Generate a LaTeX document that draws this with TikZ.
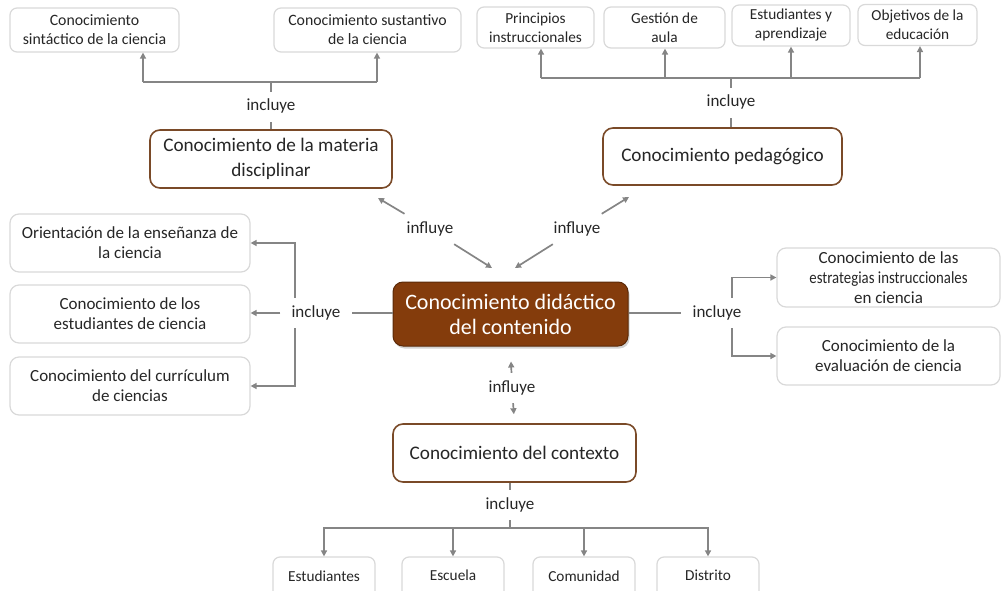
\documentclass[tikz,border=0pt]{standalone}
\usepackage{fontspec}
\setmainfont{Carlito}
\usetikzlibrary{arrows.meta,backgrounds,shadows}
\definecolor{brn}{HTML}{843C0C}
\definecolor{brnb}{HTML}{7A4A28}
\definecolor{lgray}{HTML}{D9D9D9}
\definecolor{cgray}{HTML}{858585}
\definecolor{txt}{HTML}{262626}
\tikzset{
  leaf/.style={draw=lgray, line width=1.2pt, rounded corners=7pt, fill=white, align=center,
    inner sep=0pt, text=txt, font=\fontsize{15.8}{19}\selectfont},
  leafs/.style={leaf, font=\fontsize{15.3}{19}\selectfont},
  leafl/.style={leaf, rounded corners=9pt, font=\fontsize{17}{20}\selectfont},
  mainbox/.style={draw=brnb, line width=1.6pt, rounded corners=10pt, fill=white, align=center,
    inner sep=0pt, text=txt, font=\fontsize{19.2}{25}\selectfont},
  core/.style={draw=brn!70!black, line width=1pt, fill=brn, rounded corners=10pt, text=white,
    align=center, inner sep=0pt, font=\fontsize{22}{25}\selectfont,
    drop shadow={shadow xshift=1.5pt, shadow yshift=-2.5pt, opacity=0.35}},
  lab/.style={inner xsep=11pt, inner ysep=8pt, text height=11pt, text depth=3pt, text=txt,
    font=\fontsize{17}{18}\selectfont},
  conn/.style={draw=cgray, line width=1.7pt},
  arr/.style={conn, -{Triangle[width=6pt,length=6pt]}},
}
\begin{document}
\begin{tikzpicture}[x=1pt,y=-1pt]
\useasboundingbox (0,0) rectangle (1001,591);
% top-left leaves
\node[leaf, minimum width=169, minimum height=44] (sint) at (94.5,30) {Conocimiento\\sintáctico de la ciencia};
\node[leaf, minimum width=187, minimum height=44] (sust) at (367.5,30) {Conocimiento sustantivo\\de la ciencia};
% top-right leaves
\node[leafs, minimum width=117, minimum height=41] (prin) at (535.5,27.5) {Principios\\instruccionales};
\node[leafs, minimum width=121, minimum height=41] (gest) at (664.5,27.5) {Gestión de\\aula};
\node[leafs, minimum width=118, minimum height=41] (estap) at (791,25.5) {Estudiantes y\\aprendizaje};
\node[leafs, minimum width=119, minimum height=41] (obj) at (917.5,25) {Objetivos de la\\educación};
% main boxes
\node[mainbox, minimum width=242, minimum height=58] (mat) at (271,159) {Conocimiento de la materia\\disciplinar};
\node[mainbox, minimum width=239, minimum height=57] (ped) at (722.5,156.5) {Conocimiento pedagógico};
\node[core, minimum width=235, minimum height=64] (cdc) at (510.5,314) {Conocimiento didáctico\\del contenido};
\node[mainbox, minimum width=243, minimum height=58] (ctx) at (514.5,453) {Conocimiento del contexto};
% left leaves
\node[leafl, minimum width=240, minimum height=58] (ori) at (130,243) {Orientación de la enseñanza de\\la ciencia};
\node[leafl, minimum width=240, minimum height=58] (estc) at (130,314) {Conocimiento de los\\estudiantes de ciencia};
\node[leafl, minimum width=240, minimum height=58] (cur) at (130,386) {Conocimiento del currículum\\de ciencias};
% right leaves
\node[leafl, minimum width=223, minimum height=59] (estr) at (888.5,277.5) {Conocimiento de las\\\scalebox{0.87}[1]{estrategias instruccionales}\\en ciencia};
\node[leafl, minimum width=223, minimum height=58] (eval) at (888.5,356) {Conocimiento de la\\evaluación de ciencia};
% bottom leaves
\node[leafs, minimum width=102, minimum height=44] (estb) at (324,579) {\raisebox{6pt}{Estudiantes}};
\node[leafs, minimum width=102, minimum height=44] (esc) at (453,579) {\raisebox{8pt}{Escuela}};
\node[leafs, minimum width=102, minimum height=44] (com) at (584,579) {\raisebox{6pt}{Comunidad}};
\node[leafs, minimum width=102, minimum height=44] (dis) at (708,579) {\raisebox{8pt}{Distrito}};
% labels
\node[lab] (lm) at (271,107) {incluye};
\node[lab] (lp) at (731,103) {incluye};
\node[lab] (ll) at (316,313) {incluye};
\node[lab] (lr) at (717,313) {incluye};
\node[lab] (lc) at (510,505) {incluye};
\node[lab] (inf1) at (430,229) {influye};
\node[lab] (inf2) at (577,229) {influye};
\node[lab] (inf3) at (512,388) {influye};
% coordinates
\coordinate (mj) at (271,82);
\coordinate (mjl) at (143,82);
\coordinate (mjr) at (377,82);
\coordinate (pj) at (731,78);
\coordinate (pa) at (541,78);
\coordinate (pb) at (665,78);
\coordinate (pc) at (791,78);
\coordinate (pd) at (920,78);
\coordinate (lv) at (295,313);
\coordinate (rv) at (732,313);
\coordinate (cj) at (510,528);
\coordinate (t1) at (378,198);
\coordinate (t2) at (492,268);
\coordinate (t3) at (629,197);
\coordinate (t4) at (515,268);
% materia
\draw[conn] (lm) -- (mat);
\draw[conn] (lm) -- (mj);
\draw[conn] (mjl) -- (mjr);
\draw[arr] (mjl) -- (mjl |- sint.south);
\draw[arr] (mjr) -- (mjr |- sust.south);
% pedagogico
\draw[conn] (lp) -- (ped.north -| lp);
\draw[conn] (lp) -- (pj);
\draw[conn] (pa) -- (pd);
\draw[arr] (pa) -- (pa |- prin.south);
\draw[arr] (pb) -- (pb |- gest.south);
\draw[arr] (pc) -- (pc |- estap.south);
\draw[arr] (pd) -- (pd |- obj.south);
% influye
\draw[arr] (inf1) -- (t1);
\draw[arr] (inf1) -- (t2);
\draw[arr] (inf2) -- (t3);
\draw[arr] (inf2) -- (t4);
\draw[arr, shorten >=15pt] (inf3) -- (cdc.south);
\draw[arr, shorten >=9pt] (inf3) -- (ctx.north);
% left
\draw[conn] (cdc.west |- ll) -- (ll);
\draw[arr] (ll) -- (estc.east |- ll);
\draw[arr] (ll.north -| lv) |- (ori.east);
\draw[arr] (ll.south -| lv) |- (cur.east);
% right
\draw[conn] (cdc.east |- lr) -- (lr);
\draw[arr] (lr.north -| rv) |- (estr.west);
\draw[arr] (lr.south -| rv) |- (eval.west);
% context
\draw[conn] (ctx.south -| lc) -- (lc);
\draw[conn] (lc) -- (cj);
\draw[arr] (cj) -| (estb.north);
\draw[arr] (cj) -| (esc.north);
\draw[arr] (cj) -| (com.north);
\draw[arr] (cj) -| (dis.north);
\end{tikzpicture}
\end{document}
